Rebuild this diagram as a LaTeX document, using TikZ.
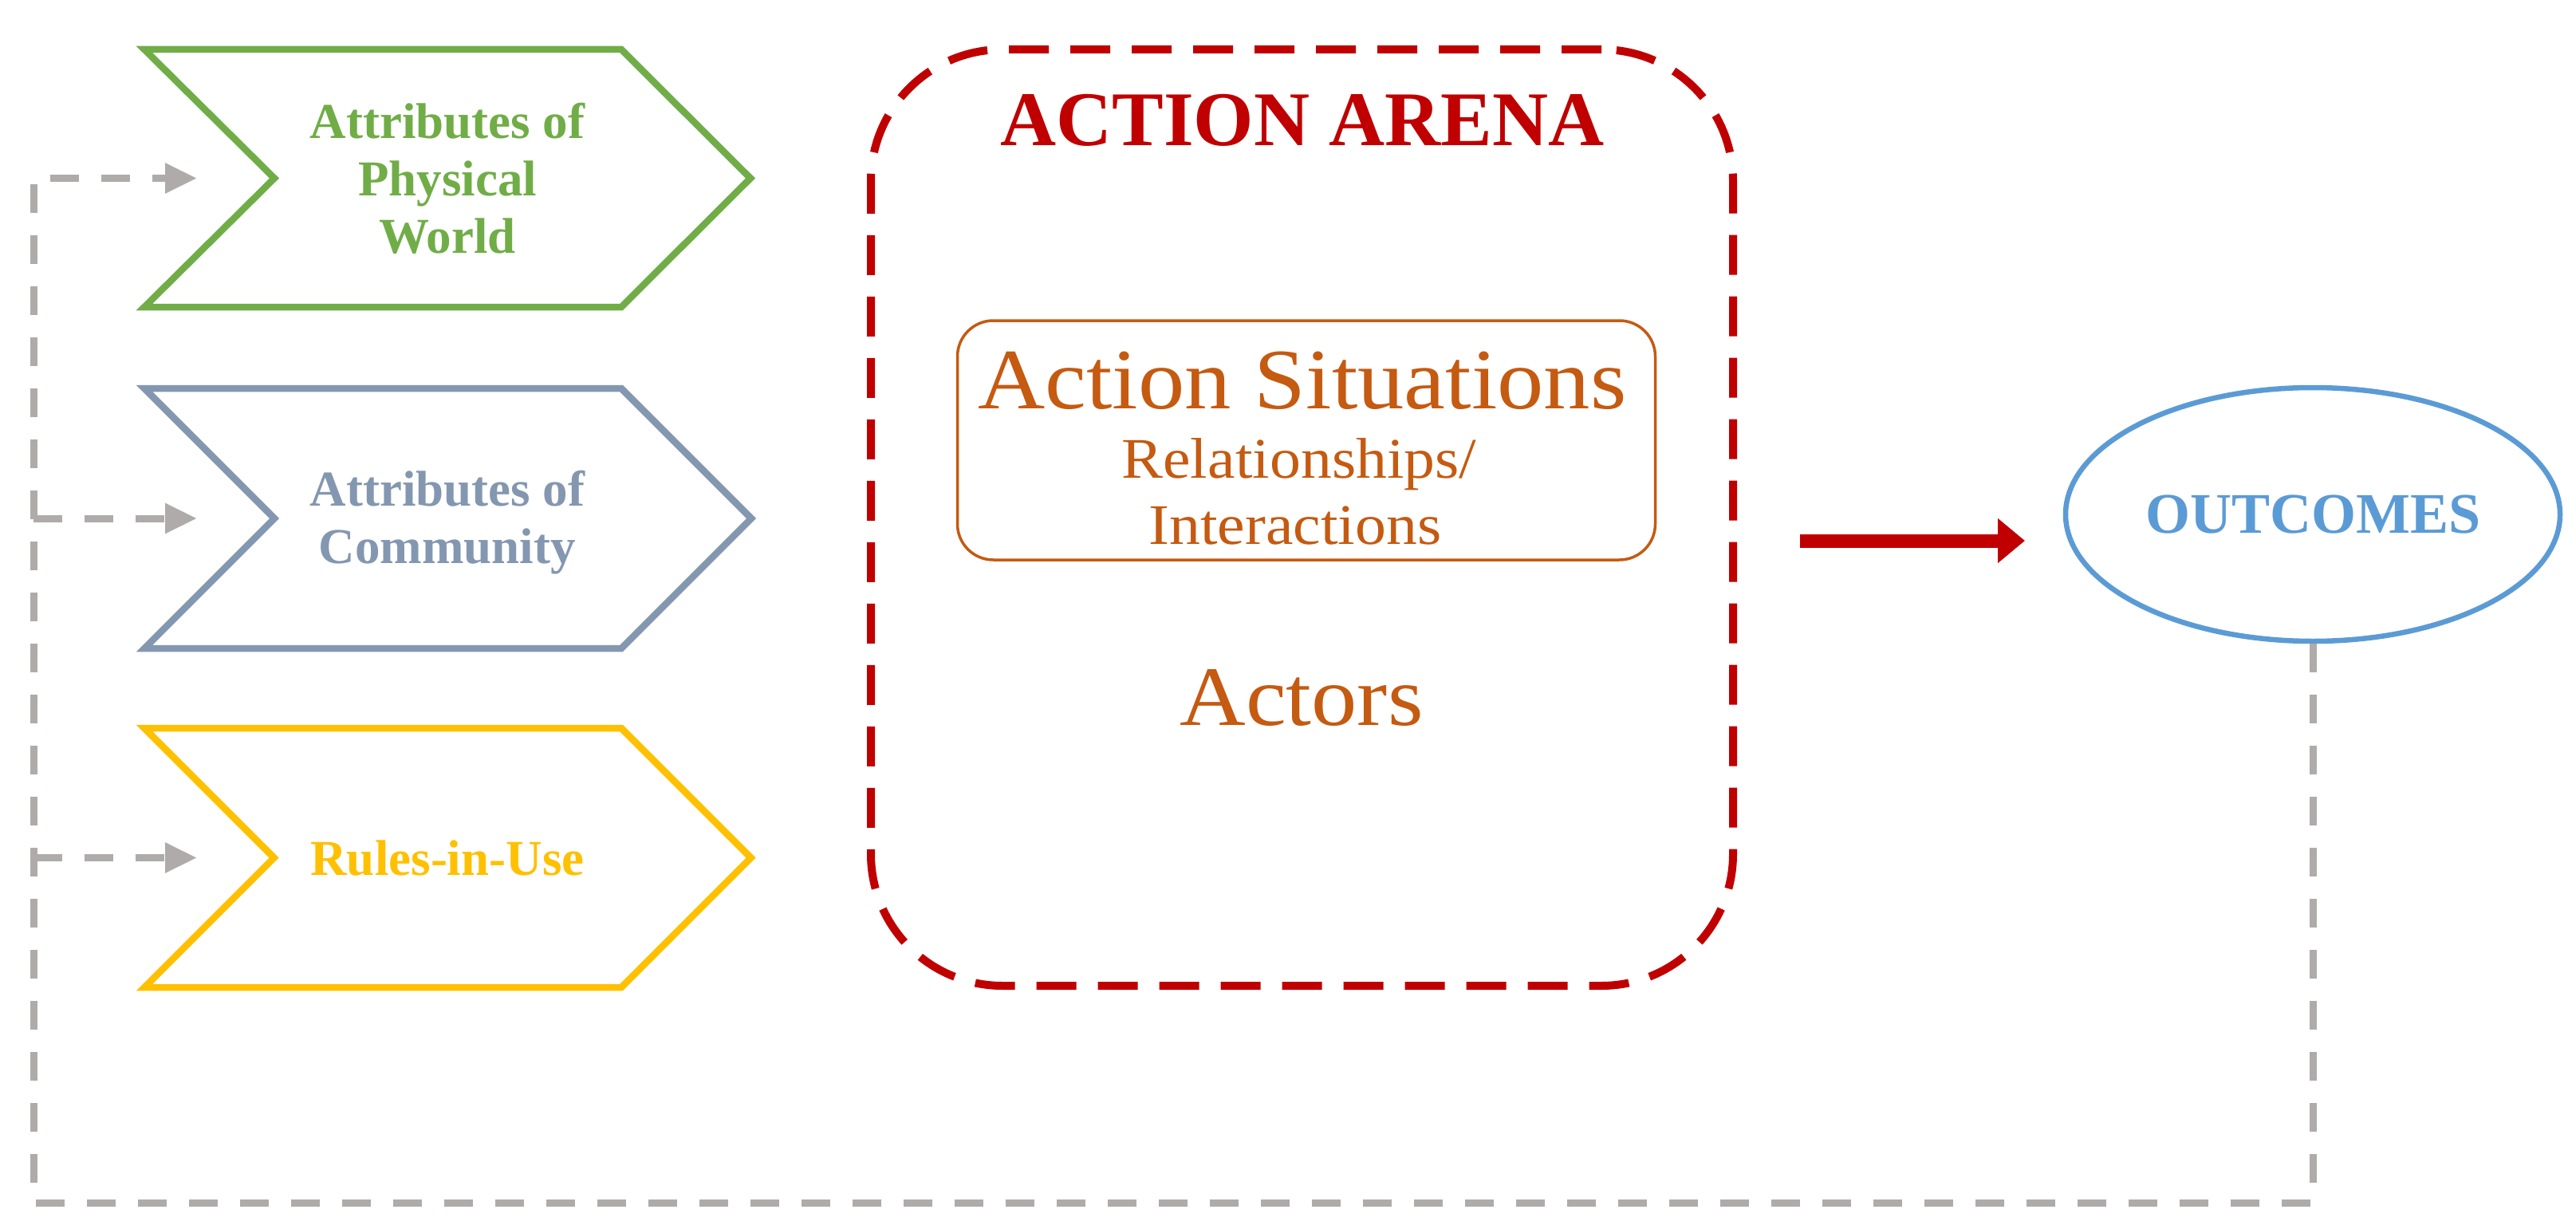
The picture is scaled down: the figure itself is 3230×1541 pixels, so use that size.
\documentclass[tikz,border=0pt]{standalone}
\usepackage{fontspec}
\setmainfont{Liberation Serif}
\newfontfamily\widefont[FakeStretch=1.08]{Liberation Serif}
\usetikzlibrary{arrows.meta,shapes.geometric}
\definecolor{cgreen}{HTML}{70AD47}
\definecolor{cslate}{HTML}{8497B0}
\definecolor{cyellow}{HTML}{FFC000}
\definecolor{cred}{HTML}{C00000}
\definecolor{corange}{HTML}{C55A11}
\definecolor{cblue}{HTML}{5B9BD5}
\definecolor{cgray}{HTML}{AFABAB}
\begin{document}
\begin{tikzpicture}[x=1pt,y=-1pt,
  chev/.style={line width=8.5pt, line join=miter},
  ctext/.style={font=\fontsize{63}{72}\selectfont\bfseries, align=center, inner sep=0pt},
  fb/.style={draw=cgray, line width=9pt, dash pattern=on 36pt off 28pt, -{Triangle[length=40pt,width=36pt]}},
  bigarrow/.style={draw=cred, line width=17pt, -{Triangle[length=34pt,width=54pt]}},
  orangetext/.style={text=corange, anchor=base, inner sep=0pt}
]
\useasboundingbox (0,0) rectangle (3230,1541);
\fill[white] (0,0) rectangle (3230,1541);

% chevrons
\draw[chev, draw=cgreen] (181,62) -- (779,62) -- (941,223.5) -- (779,385) -- (181,385) -- (344,223.5) -- cycle;
\draw[chev, draw=cslate] (181,487) -- (779,487) -- (942,650) -- (779,813) -- (181,813) -- (344,650) -- cycle;
\draw[chev, draw=cyellow] (181,913) -- (779,913) -- (941.5,1075.5) -- (779,1238) -- (181,1238) -- (343.5,1075.5) -- cycle;

\node[ctext, text=cgreen] (phys) at (561,224) {Attributes of\\Physical\\World};
\node[ctext, text=cslate] (comm) at (561,655) {Attributes of\\Community};
\node[ctext, text=cyellow] (rules) at (561,1076) {Rules-in-Use};

% action arena
\node[draw=cred, line width=10pt, dash pattern=on 50pt off 27pt, rounded corners=165pt,
      minimum width=1081pt, minimum height=1174pt, inner sep=0pt] (arena) at (1632.5,649) {};
\node[font=\fontsize{97}{110}\selectfont\bfseries, text=cred, anchor=base, inner sep=0pt] (title) at (1633,183) {ACTION ARENA};

\node[draw=corange, line width=3.5pt, rounded corners=45pt, minimum width=875pt, minimum height=300pt, inner sep=0pt] (asbox) at (1638,552) {};
\node[orangetext, font=\widefont\fontsize{108}{120}\selectfont] (as1) at (1633,512) {Action Situations};
\node[orangetext, font=\widefont\fontsize{72}{80}\selectfont] (as2) at (1629,599) {Relationships/};
\node[orangetext, font=\widefont\fontsize{72}{80}\selectfont] (as3) at (1624,682) {Interactions};
\node[orangetext, font=\widefont\fontsize{106}{120}\selectfont] (actors) at (1632,909) {Actors};

% outcomes
\node[ellipse, draw=cblue, line width=6.5pt, minimum width=620pt, minimum height=318pt, inner sep=0pt,
      text=cblue, font=\fontsize{72}{80}\selectfont\bfseries] (outcomes) at (2900,645) {OUTCOMES};

% red arrow
\coordinate (arrEnd) at (2539,678);
\draw[bigarrow, shorten <=79pt] (arena.east |- arrEnd) -- (arrEnd);

% feedback
\coordinate (fbL) at (42,1508);
\coordinate (in1) at (247,223.5);
\coordinate (in2) at (247,650);
\coordinate (in3) at (247,1075.5);
\coordinate (br2) at (42,650);
\coordinate (br3) at (42,1075.5);
\draw[fb] (outcomes.south) |- (fbL) |- (in1);
\draw[fb] (br2) -- (in2);
\draw[fb] (br3) -- (in3);
\end{tikzpicture}
\end{document}
